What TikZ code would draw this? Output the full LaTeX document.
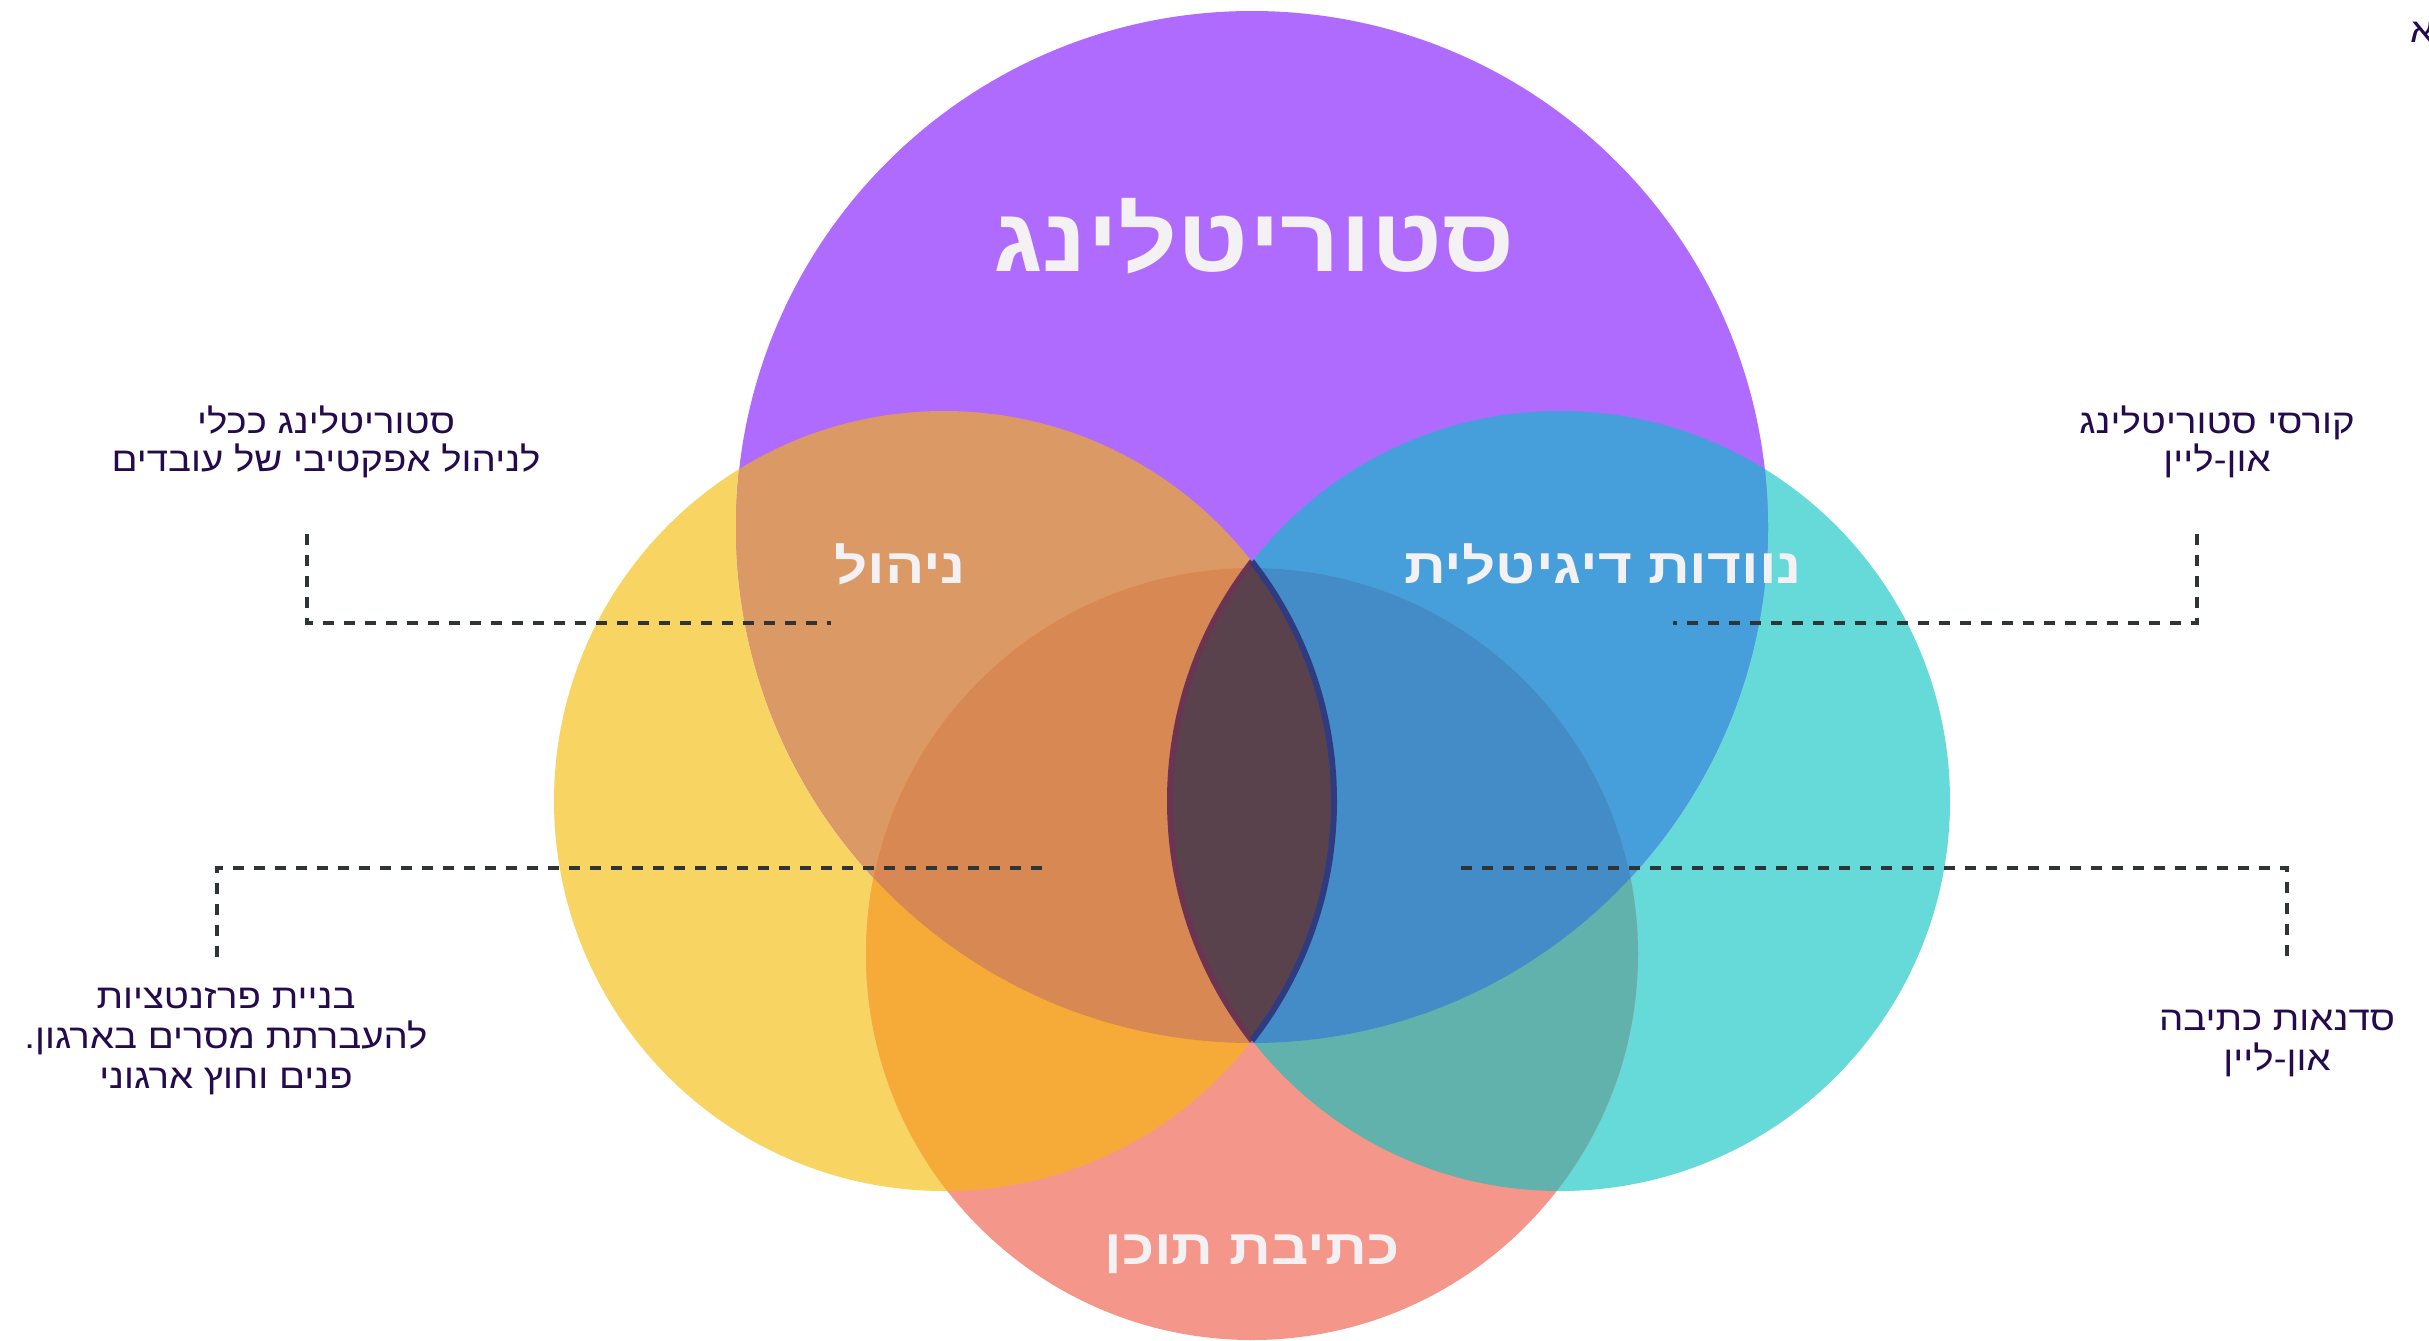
\documentclass[tikz,border=0pt]{standalone}
\usepackage{fontspec}
\newfontfamily\heb[Script=Hebrew,FakeStretch=1.13]{Liberation Sans}
\newfontfamily\hebT[Script=Hebrew,FakeStretch=1.19]{Liberation Sans}
\newfontfamily\hebBig[Script=Hebrew,FakeStretch=1.15]{Liberation Sans}
\TeXXeTstate=1
\definecolor{cP}{HTML}{AF6BFE}
\definecolor{cY}{HTML}{F8D563}
\definecolor{cT}{HTML}{66D9D9}
\definecolor{cS}{HTML}{F5968A}
\definecolor{cPY}{HTML}{DB9966}
\definecolor{cPT}{HTML}{469FDA}
\definecolor{cSY}{HTML}{F6AB38}
\definecolor{cST}{HTML}{61B2AD}
\definecolor{cPSY}{HTML}{D88853}
\definecolor{cPST}{HTML}{438CC7}
\definecolor{cLens}{HTML}{5A424D}
\definecolor{lensL}{HTML}{6B3452}
\definecolor{lensR}{HTML}{2E3B80}
\definecolor{labelc}{HTML}{250A4E}
\definecolor{titlec}{HTML}{F3F1F3}
\definecolor{dashc}{HTML}{2F3537}
\tikzset{
  lbl/.style={font=\heb\fontsize{34}{40}\selectfont, text=labelc, anchor=base, inner sep=0pt},
  ttl/.style={font=\hebT\bfseries\fontsize{49}{58}\selectfont, text=titlec, anchor=base, inner sep=0pt},
  bigttl/.style={font=\hebBig\bfseries\fontsize{90}{100}\selectfont, text=titlec, anchor=base, inner sep=0pt},
  dashline/.style={draw=dashc, line width=4.8pt, dash pattern=on 11pt off 10pt},
  sideR/.style={radius=390pt},
  smallR/.style={radius=386pt},
  bigR/.style={radius=516pt}
}
\begin{document}
\begin{tikzpicture}[x=1pt,y=-1pt]
\useasboundingbox (0,0) rectangle (2429,1341);
\fill[white] (0,0) rectangle (2429,1341);
\coordinate (P) at (1252,527);
\coordinate (Y) at (944,801);
\coordinate (T) at (1560,801);
\coordinate (S) at (1252,954);
% base circles
\fill[cY] (Y) circle[sideR];
\fill[cT] (T) circle[sideR];
\fill[cS] (S) circle[smallR];
\fill[cP] (P) circle[bigR];
% pairwise overlaps
\begin{scope}
  \clip (P) circle[bigR];
  \fill[cPY] (Y) circle[sideR];
  \fill[cPT] (T) circle[sideR];
\end{scope}
\begin{scope}
  \clip (S) circle[smallR];
  \fill[cSY] (Y) circle[sideR];
  \fill[cST] (T) circle[sideR];
\end{scope}
\begin{scope}
  \clip (S) circle[smallR];
  \clip (P) circle[bigR];
  \fill[cPSY] (Y) circle[sideR];
  \fill[cPST] (T) circle[sideR];
\end{scope}
% central lens
\begin{scope}
  \clip (Y) circle[sideR];
  \fill[cLens] (T) circle[sideR];
\end{scope}
\begin{scope}
  \clip (Y) circle[sideR];
  \draw[draw=lensL, line width=6pt] (T) circle[sideR];
\end{scope}
\begin{scope}
  \clip (T) circle[sideR];
  \draw[draw=lensR, line width=6pt] (Y) circle[sideR];
\end{scope}
% titles
\node[bigttl] (tStory) at (1254,271) {\beginR סטוריטלינג\endR};
\node[ttl] (tMgmt) at (900,583) {\beginR ניהול\endR};
\node[ttl] (tNomad) at (1603,583) {\beginR נוודות דיגיטלית\endR};
\node[ttl] (tWrite) at (1252,1264) {\beginR כתיבת תוכן\endR};
% labels
\node[lbl] (tl1) at (326,433) {\beginR סטוריטלינג ככלי\endR};
\node[lbl] (tl2) at (326,471) {\beginR לניהול אפקטיבי של עובדים\endR};
\node[lbl] (tr1) at (2217,433) {\beginR קורסי סטוריטלינג\endR};
\node[lbl] (tr2) at (2217,471) {\beginR און-ליין\endR};
\node[lbl] (bl1) at (226,1008) {\beginR בניית פרזנטציות\endR};
\node[lbl] (bl2) at (226,1048) {\beginR להעברתת מסרים בארגון.\endR};
\node[lbl] (bl3) at (226,1088) {\beginR פנים וחוץ ארגוני\endR};
\node[lbl] (br1) at (2277,1030) {\beginR סדנאות כתיבה\endR};
\node[lbl] (br2) at (2277,1070) {\beginR און-ליין\endR};
\node[lbl, anchor=base west] (corner) at (2410,42) {\beginR א\endR};
% dashed connectors
\coordinate (tlA) at (307,534);
\coordinate (tlB) at (831,623);
\coordinate (trA) at (2197,534);
\coordinate (trB) at (1673,623);
\coordinate (blA) at (217,957);
\coordinate (blB) at (1048,868);
\coordinate (brA) at (2287,956);
\coordinate (brB) at (1456,868);
\draw[dashline] (tlA) |- (tlB);
\draw[dashline] (trA) |- (trB);
\draw[dashline] (blA) |- (blB);
\draw[dashline] (brA) |- (brB);
\end{tikzpicture}
\end{document}
